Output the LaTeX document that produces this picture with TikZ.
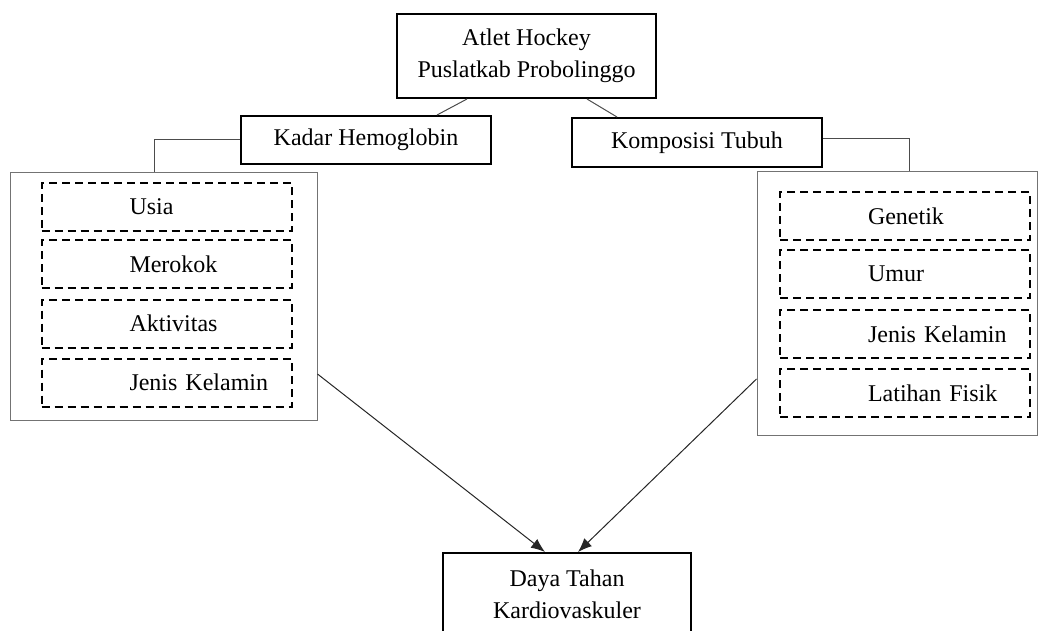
\documentclass[tikz,border=0pt]{standalone}
\usepackage{fontspec}
\setmainfont{Liberation Serif}
\usetikzlibrary{arrows.meta}
\tikzset{
	mainbox/.style={draw, line width=1pt, align=center, inner sep=0pt,
			font=\fontsize{12}{16}\selectfont},
	groupbox/.style={draw=black!55, line width=0.5pt, inner sep=0pt},
	factorbox/.style={draw, dashed, dash pattern=on 4pt off 2.5pt, line width=1pt,
			inner xsep=0pt, inner ysep=0pt, text width=125pt, minimum height=24pt,
			align=left, font=\fontsize{12}{14}\selectfont,
			execute at begin node=\hspace*{44pt}},
	link/.style={draw=black!70, line width=0.5pt},
	effect/.style={draw=black!85, line width=0.5pt, -{Latex[length=7pt,width=5.5pt]}}
}

\begin{document}
\begin{tikzpicture}[x=0.5pt,y=-0.5pt]
			\useasboundingbox (0,0) rectangle (1039,631);
			% main boxes
			\node[mainbox, minimum width=129.5pt, minimum height=42pt] (atlet) at (526.5,56) {Atlet Hockey\\Puslatkab Probolinggo};
			\node[mainbox, minimum width=125pt, minimum height=24pt] (kadar) at (366,140) {Kadar Hemoglobin};
			\node[mainbox, minimum width=125pt, minimum height=24.5pt] (komposisi) at (697,142.5) {Komposisi Tubuh};
			\node[mainbox, minimum width=124pt, minimum height=41pt] (daya) at (567,594) {Daya Tahan\\Kardiovaskuler};
			% groups
			\node[groupbox, minimum width=153.5pt, minimum height=123.5pt] (hbgroup) at (163.5,296.5) {};
			\node[groupbox, minimum width=140pt, minimum height=131.5pt] (ktgroup) at (897,303.5) {};
			% factors of hemoglobin
			\node[factorbox] (usia) at (166.5,207) {Usia};
			\node[factorbox] (merokok) at (166.5,264) {Merokok};
			\node[factorbox] (aktivitas) at (166.5,323.5) {Aktivitas};
			\node[factorbox] (jkhb) at (166.5,382.5) {Jenis Kelamin};
			% factors of body composition
			\node[factorbox] (genetik) at (905,216) {Genetik};
			\node[factorbox] (umur) at (905,274) {Umur};
			\node[factorbox] (jkkt) at (905,334) {Jenis Kelamin};
			\node[factorbox] (latihan) at (905,393) {Latihan Fisik};
			% connectors
			\draw[link] ([xshift=-29.75pt]atlet.south) -- ([xshift=35.5pt]kadar.north);
			\draw[link] ([xshift=30.25pt]atlet.south) -- ([xshift=-40pt]komposisi.north);
			\draw[link] (kadar.west) -| ([xshift=-4.75pt]hbgroup.north);
			\draw[link] ([yshift=1.75pt]komposisi.east) -| ([xshift=6pt]ktgroup.north);
			\draw[effect] ([yshift=-38.75pt]hbgroup.east) -- ([xshift=-11pt]daya.north);
			\draw[effect] ([yshift=-37.75pt]ktgroup.west) -- ([xshift=5.5pt]daya.north);
		\end{tikzpicture}
\end{document}
